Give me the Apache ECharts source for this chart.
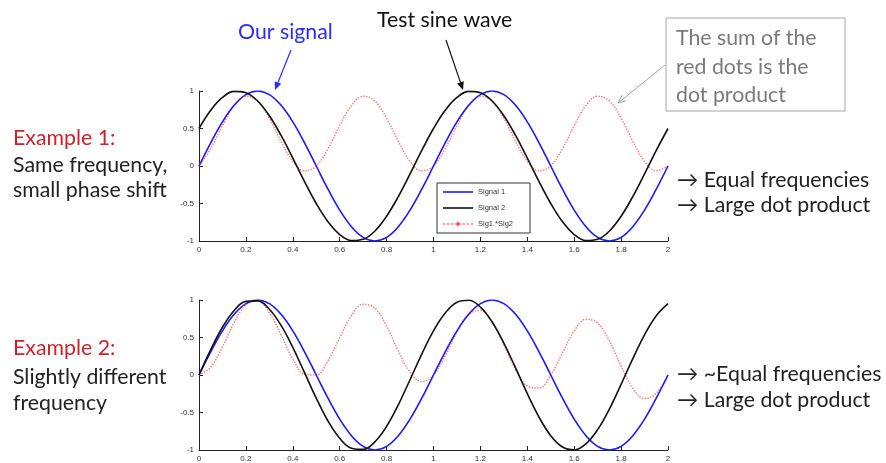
<!DOCTYPE html>
<html>
<head>
<meta charset="utf-8">
<script src="https://cdn.jsdelivr.net/npm/echarts@6/dist/echarts.min.js"></script>
<style>
html,body{margin:0;padding:0;background:#fff;}
#chart{width:886px;height:463px;}
</style>
</head>
<body>
<div id="chart"></div>
<script>
// ---- data ----
var tValues = [0,0.05,0.1,0.15,0.2,0.25,0.3,0.35,0.4,0.45,0.5,0.55,0.6,0.65,0.7,0.75,0.8,0.85,0.9,0.95,1,
  1.05,1.1,1.15,1.2,1.25,1.3,1.35,1.4,1.45,1.5,1.55,1.6,1.65,1.7,1.75,1.8,1.85,1.9,1.95,2];

var topSignal1 = [0,0.309,0.588,0.809,0.951,1,0.951,0.809,0.588,0.309,0,-0.309,-0.588,-0.809,-0.951,-1,-0.951,-0.809,-0.588,-0.309,0,
  0.309,0.588,0.809,0.951,1,0.951,0.809,0.588,0.309,0,-0.309,-0.588,-0.809,-0.951,-1,-0.951,-0.809,-0.588,-0.309,0];
var topSignal2 = [0.5,0.743,0.914,0.995,0.978,0.866,0.669,0.407,0.105,-0.208,-0.5,-0.743,-0.914,-0.995,-0.978,-0.866,-0.669,-0.407,-0.105,0.208,0.5,
  0.743,0.914,0.995,0.978,0.866,0.669,0.407,0.105,-0.208,-0.5,-0.743,-0.914,-0.995,-0.978,-0.866,-0.669,-0.407,-0.105,0.208,0.5];
var topProduct = [0,0.23,0.537,0.805,0.93,0.866,0.636,0.329,0.062,-0.064,0,0.23,0.537,0.805,0.93,0.866,0.636,0.329,0.062,-0.064,0,
  0.23,0.537,0.805,0.93,0.866,0.636,0.329,0.062,-0.064,0,0.23,0.537,0.805,0.93,0.866,0.636,0.329,0.062,-0.064,0];

var bottomSignal1 = [0,0.309,0.588,0.809,0.951,1,0.951,0.809,0.588,0.309,0,-0.309,-0.588,-0.809,-0.951,-1,-0.951,-0.809,-0.588,-0.309,0,
  0.309,0.588,0.809,0.951,1,0.951,0.809,0.588,0.309,0,-0.309,-0.588,-0.809,-0.951,-1,-0.951,-0.809,-0.588,-0.309,0];
var bottomSignal2 = [0,0.339,0.637,0.861,0.982,0.988,0.876,0.661,0.368,0.031,-0.309,-0.613,-0.844,-0.976,-0.992,-0.891,-0.685,-0.397,-0.063,0.279,0.588,
  0.827,0.969,0.996,0.905,0.707,0.426,0.094,-0.249,-0.562,-0.809,-0.96,-0.998,-0.918,-0.729,-0.454,-0.125,0.218,0.536,0.79,0.951];
var bottomProduct = [0,0.105,0.375,0.697,0.934,0.988,0.833,0.535,0.216,0.01,0,0.189,0.496,0.79,0.943,0.891,0.651,0.321,0.037,-0.086,0,
  0.256,0.57,0.806,0.861,0.707,0.405,0.076,-0.146,-0.174,0,0.297,0.587,0.743,0.693,0.454,0.119,-0.176,-0.315,-0.244,0];

var seriesNames = ['Signal 1','Signal 2','Sig1.*Sig2'];
var xTickMin = 0, xTickMax = 2, xTickStep = 0.2;
var yTickMin = -1, yTickMax = 1, yTickStep = 0.5;

// ---- build ----
function pairs(arr){ return tValues.map(function(t,i){ return [t, arr[i]]; }); }

var FONT = 'Lato, "Open Sans", sans-serif';
var TXT = 21.3;

function axisX(gi){
  return {type:'value', gridIndex:gi, min:xTickMin, max:xTickMax, interval:xTickStep,
    axisLine:{show:true, onZero:false, lineStyle:{color:'#222', width:1}},
    axisTick:{show:true, inside:true, length:4, lineStyle:{color:'#222'}},
    axisLabel:{fontSize:8, color:'#333', margin:5, fontFamily:'"Liberation Sans", Arial, sans-serif'},
    splitLine:{show:false}};
}
function axisY(gi){
  return {type:'value', gridIndex:gi, min:yTickMin, max:yTickMax, interval:yTickStep,
    axisLine:{show:true, onZero:false, lineStyle:{color:'#222', width:1}},
    axisTick:{show:true, inside:true, length:4, lineStyle:{color:'#222'}},
    axisLabel:{fontSize:8, color:'#333', margin:5, fontFamily:'"Liberation Sans", Arial, sans-serif'},
    splitLine:{show:false}};
}
function lineSeries(name, data, gi, kind){
  var s = {name:name, type:'line', xAxisIndex:gi, yAxisIndex:gi, data:pairs(data), smooth:0.4,
    animation:false, z: kind==='prod'?1:2};
  if(kind==='blue'){ s.symbol='none'; s.lineStyle={color:'#1a1aff', width:1.6}; s.itemStyle={color:'#1a1aff'}; }
  else if(kind==='black'){ s.symbol='none'; s.lineStyle={color:'#111', width:1.6}; s.itemStyle={color:'#111'}; }
  else { s.symbol='circle'; s.symbolSize=3; s.showSymbol=false;
         s.lineStyle={color:'#ff5a5a', width:1.4, type:'dotted', opacity:0.85}; s.itemStyle={color:'#ff4040'}; }
  return s;
}

function arrow(x1,y1,x2,y2,color,filled,w){
  var ang = Math.atan2(y2-y1, x2-x1), L = 8, H = 3.5;
  var bx = x2 - L*Math.cos(ang), by = y2 - L*Math.sin(ang);
  var px = -Math.sin(ang)*H, py = Math.cos(ang)*H;
  var pts = [[bx+px, by+py],[x2,y2],[bx-px, by-py]];
  var els = [{type:'line', shape:{x1:x1,y1:y1,x2:filled?bx:x2,y2:filled?by:y2}, style:{stroke:color, lineWidth:w}}];
  if(filled) els.push({type:'polygon', shape:{points:pts}, style:{fill:color}});
  else els.push({type:'polyline', shape:{points:pts}, style:{stroke:color, lineWidth:w, fill:null}});
  return els;
}
function txt(s, x, y, color, size){
  return {type:'text', style:{text:s, x:x, y:y, fill:color, fontSize:size||TXT, fontFamily:FONT, verticalAlign:'middle', align:'left'}};
}

var graphics = [
  txt('Our signal', 238, 32, '#2b2bff'),
  txt('Test sine wave', 377, 20, '#111'),
  {type:'rect', shape:{x:666, y:18, width:179, height:93}, style:{fill:null, stroke:'#a6a6a6', lineWidth:1}},
  txt('The sum of the', 676, 38, '#7a7a7a'),
  txt('red dots is the', 676, 67, '#7a7a7a'),
  txt('dot product', 676, 95, '#7a7a7a'),
  txt('Example 1:', 13, 138, '#d0202a'),
  txt('Same frequency,', 13, 165, '#222'),
  txt('small phase shift', 13, 190, '#222'),
  txt('\u2192 Equal frequencies', 677, 180, '#222'),
  txt('\u2192 Large dot product', 677, 205, '#222'),
  txt('Example 2:', 13, 348, '#d0202a'),
  txt('Slightly different', 13, 377, '#222'),
  txt('frequency', 13, 403, '#222'),
  txt('\u2192 ~Equal frequencies', 677, 374, '#222'),
  txt('\u2192 Large dot product', 677, 400, '#222')
].concat(arrow(291,50,275,90,'#2b2bff',true,1.2))
 .concat(arrow(446,40,463,90,'#111',true,1.2))
 .concat(arrow(665,65,618,103,'#a0a0a0',false,1));

var lineIcon = 'path://M0,0H30V1.6H0Z';
var dotLineIcon = 'path://M0,1.3h2.5v1.2h-2.5z M4,1.3h2.5v1.2h-2.5z M8,1.3h2.5v1.2h-2.5z M12,1.3h6v1.2h-6z M19.5,1.3h2.5v1.2h-2.5z M23.5,1.3h2.5v1.2h-2.5z M27.5,1.3h2.5v1.2h-2.5z M13.6,0.2h2.8v3.4h-2.8z';

var option = {
  backgroundColor:'#fff',
  animation:false,
  grid:[
    {left:199, top:91, width:469, height:150},
    {left:199, top:300, width:469, height:152}
  ],
  xAxis:[axisX(0), axisX(1)],
  yAxis:[axisY(0), axisY(1)],
  legend:{
    data:[{name:seriesNames[0], icon:lineIcon},{name:seriesNames[1], icon:lineIcon},{name:seriesNames[2], icon:dotLineIcon}],
    left:437, top:183, orient:'vertical',
    itemWidth:30, itemHeight:10, itemGap:8, symbolKeepAspect:true,
    padding:[5,17,5,6], borderColor:'#333', borderWidth:1, backgroundColor:'#fff',
    textStyle:{fontSize:7.5, color:'#333', fontFamily:'"Liberation Sans", Arial, sans-serif'},
    selectedMode:false, z:10
  },
  series:[
    lineSeries(seriesNames[0], topSignal1, 0, 'blue'),
    lineSeries(seriesNames[1], topSignal2, 0, 'black'),
    lineSeries(seriesNames[2], topProduct, 0, 'prod'),
    lineSeries(seriesNames[0], bottomSignal1, 1, 'blue'),
    lineSeries(seriesNames[1], bottomSignal2, 1, 'black'),
    lineSeries(seriesNames[2], bottomProduct, 1, 'prod')
  ],
  graphic:graphics
};
var chart = echarts.init(document.getElementById('chart'), null, {renderer:'canvas'});
chart.setOption(option);
</script>
</body>
</html>
